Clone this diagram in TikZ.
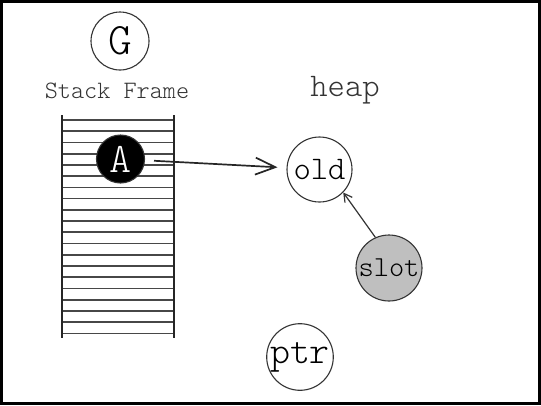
\documentclass[tikz,border=0pt]{standalone}
\usepackage{fontspec}
\setmonofont{Latin Modern Mono Light}
\usetikzlibrary{arrows.meta}
\tikzset{
  obj/.style={circle, draw=black!80, line width=1.1pt, inner sep=0pt, font=\ttfamily},
  stackline/.style={draw=black!72, line width=1.7pt},
  stackside/.style={draw=black!85, line width=1.4pt},
  lbl/.style={anchor=base, font=\ttfamily, text=black!80},
  bigarrow/.style={draw=black!85, line width=1.7pt, -{Straight Barb[length=20pt,width=17pt,line width=1.7pt]}},
  smallarrow/.style={draw=black!80, line width=1.2pt, -{Straight Barb[length=8pt,width=9pt,line width=1.2pt]}}
}
\begin{document}
\begin{tikzpicture}[x=1pt,y=-1pt]
\useasboundingbox (0,0) rectangle (541,405);
\draw[line width=3pt] (1.5,1.5) rectangle (539.5,403.5);
% stack frame
\foreach \k in {0,...,19} {
  \draw[stackline] (62,120+11.23*\k) -- (174,120+11.23*\k);
}
\draw[stackside] (62,115) -- (62,338);
\draw[stackside] (174,115) -- (174,338);
% nodes
\node[obj, minimum size=58pt, font=\ttfamily\fontsize{45}{45}\selectfont] (G) at (120,41) {G};
\node[lbl, font=\ttfamily\fontsize{25}{25}\selectfont] (sf) at (117,98) {Stack Frame};
\node[lbl, font=\ttfamily\fontsize{33}{33}\selectfont] (heap) at (345,96) {heap};
\node[obj, fill=black, minimum size=48pt, text=white, font=\ttfamily\fontsize{42}{42}\selectfont] (A) at (120.5,159) {A};
\node[obj, fill=white, minimum size=65pt, font=\ttfamily\fontsize{33}{33}\selectfont] (old) at (319.5,169.5) {old};
\node[obj, fill=black!25, minimum size=66pt, font=\ttfamily\fontsize{29}{29}\selectfont] (slot) at (389,268) {slot};
\node[obj, fill=white, minimum size=66pt, font=\ttfamily\fontsize{38}{38}\selectfont] (ptr) at (300,357) {ptr};
% arrows
\draw[bigarrow, shorten <=9pt, shorten >=9pt] (A) -- (old);
\draw[smallarrow] (slot.114) -- (old.-44);
\end{tikzpicture}
\end{document}
